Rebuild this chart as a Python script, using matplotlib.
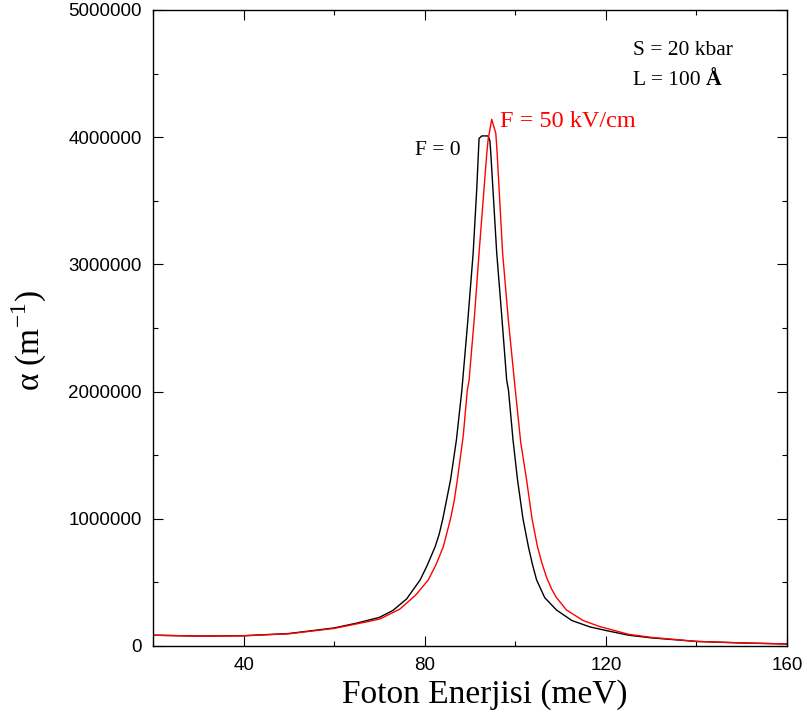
import numpy as np
import matplotlib
matplotlib.use("Agg")
import matplotlib.pyplot as plt
from matplotlib.ticker import MultipleLocator, FuncFormatter

# --- data, alpha in m^-1 ---
e_f0 = [20, 30, 40, 50, 60, 65, 70, 73, 76, 79, 80.5, 82.3, 83.2, 84, 85.7, 87,
        88.2, 89.5, 90.7, 91.5, 92.0, 92.6, 94.0, 94.4, 94.6, 95.9, 97, 98.1,
        98.5, 99.5, 100.5, 101.7, 102.9, 103.8, 104.7, 106.5, 109.1, 112.5,
        116.5, 120, 125, 130, 140, 150, 160]
alpha_f0 = [0.085, 0.078, 0.081, 0.098, 0.142, 0.180, 0.225, 0.280, 0.370, 0.520,
            0.630, 0.780, 0.880, 1.000, 1.305, 1.620, 2.010, 2.550, 3.090, 3.600,
            3.990, 4.010, 4.010, 3.970, 3.870, 3.090, 2.600, 2.090, 2.010, 1.620,
            1.305, 1.000, 0.780, 0.640, 0.520, 0.380, 0.283, 0.200, 0.150, 0.122,
            0.085, 0.064, 0.036, 0.024, 0.016]

e_f50 = [20, 30, 40, 50, 60, 67.2, 70.1, 74.5, 78, 80.8, 82.5, 84.1, 85.7, 86.5,
         87.2, 88.5, 89.4, 89.8, 91, 92.0, 93.7, 94.0, 94.8, 95.7, 96.0, 97.2,
         98.5, 99.9, 101.2, 102.5, 103.7, 104.9, 105.9, 106.9, 108, 109, 111.3,
         115, 118.7, 120, 125, 130, 140, 150, 160]
alpha_f50 = [0.085, 0.078, 0.080, 0.096, 0.138, 0.190, 0.212, 0.290, 0.400, 0.520,
             0.640, 0.780, 1.000, 1.140, 1.305, 1.650, 2.010, 2.090, 2.600, 3.090,
             3.870, 3.980, 4.140, 4.030, 3.870, 3.090, 2.550, 2.050, 1.600, 1.305,
             1.000, 0.780, 0.650, 0.540, 0.450, 0.385, 0.283, 0.200, 0.152, 0.140,
             0.092, 0.068, 0.036, 0.024, 0.016]

alpha_f0 = np.array(alpha_f0) * 1e6
alpha_f50 = np.array(alpha_f50) * 1e6

serif = "Liberation Serif"
sans = "Liberation Sans"
plt.rcParams["mathtext.fontset"] = "custom"
plt.rcParams["mathtext.rm"] = serif

fig = plt.figure(figsize=(8.08, 7.22), dpi=100)
ax = fig.add_axes([153 / 808, 1 - 646 / 722, (787 - 153) / 808, (646 - 10) / 722])

ax.plot(e_f0, alpha_f0, color="black", lw=1.0)
ax.plot(e_f50, alpha_f50, color="red", lw=1.0)

ax.set_xlim(20, 160)
ax.set_ylim(0, 5000000)

ax.xaxis.set_major_locator(MultipleLocator(40))
ax.xaxis.set_minor_locator(MultipleLocator(20))
ax.yaxis.set_major_locator(MultipleLocator(1000000))
ax.yaxis.set_minor_locator(MultipleLocator(500000))
ax.yaxis.set_major_formatter(FuncFormatter(lambda v, p: "%d" % v))

ax.tick_params(which="both", direction="in", top=True, right=True)
ax.tick_params(which="major", length=7, width=0.8, pad=8)
ax.tick_params(which="minor", length=3.5, width=0.8)
for lab in ax.get_xticklabels() + ax.get_yticklabels():
    lab.set_fontfamily(sans)
    lab.set_fontsize(13.5)
for s in ax.spines.values():
    s.set_linewidth(1.0)

ax.set_xlabel("Foton Enerjisi (meV)", family=serif, fontsize=24, labelpad=4)
ax.set_ylabel(r"α (m$^{\mathregular{-1}}$)", family=serif, fontsize=24, labelpad=14)
ax.xaxis.label.set_x(0.524)
ax.yaxis.label.set_y(0.48)

ax.text(77.9, 3860000, "F = 0", family=serif, fontsize=15.5, color="black")
ax.text(96.6, 4080000, "F = 50 kV/cm", family=serif, fontsize=17.5, color="red")
ax.text(126, 4650000, "S = 20 kbar", family=serif, fontsize=15.5)
ax.text(126, 4410000, "L = 100", family=serif, fontsize=15.5)
ax.text(142.1, 4410000, "Å", family=serif, fontsize=15.5, fontweight="bold")

fig.savefig("out.png", dpi=100)
